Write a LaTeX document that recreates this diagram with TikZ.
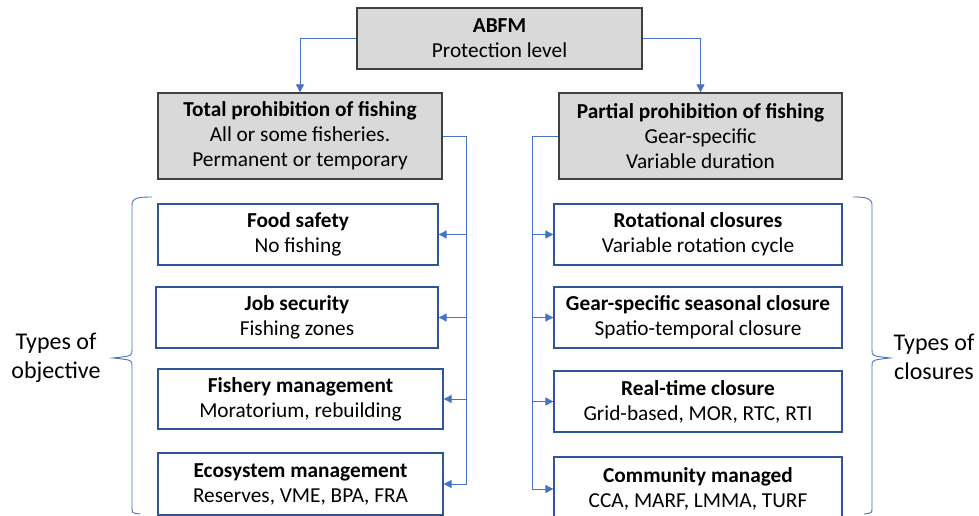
\documentclass[tikz,border=0pt]{standalone}
\usepackage{fontspec}
\setmainfont{Carlito}
\usetikzlibrary{arrows.meta}
\definecolor{conn}{HTML}{4472C4}
\definecolor{childb}{HTML}{2F5597}
\definecolor{grayf}{HTML}{D9D9D9}
\definecolor{grayb}{HTML}{404040}
\begin{document}
\begin{tikzpicture}[x=1pt,y=-1pt,
  boxtext/.style={font=\fontsize{21.3}{25}\selectfont, align=center, inner sep=0pt},
  graybox/.style={boxtext, draw=grayb, fill=grayf, line width=1.3pt},
  childbox/.style={boxtext, draw=childb, fill=white, line width=1.3pt},
  conline/.style={draw=conn, line width=0.9pt},
  arr/.style={conline, -{Triangle[width=8pt,length=8pt]}},
  bracestyle/.style={draw=conn, line width=0.9pt},
  sidetext/.style={font=\fontsize{24}{29}\selectfont, align=center, inner sep=0pt}]
\useasboundingbox (0,0) rectangle (979,516);
\clip (0,0) rectangle (979,516);
% top
\node[graybox, minimum width=285pt, minimum height=61pt] (top) at (499.5,38.5) {\textbf{ABFM}\\Protection level};
\node[graybox, minimum width=284pt, minimum height=86pt] (lg) at (300,136) {\textbf{Total prohibition of fishing}\\All or some fisheries.\\Permanent or temporary};
\node[graybox, minimum width=283pt, minimum height=86pt] (rg) at (700.5,136) {\textbf{Partial prohibition of fishing}\\Gear-specific\\Variable duration};
% left children
\node[childbox, minimum width=280pt, minimum height=61pt] (food) at (298,234.5) {\textbf{Food safety}\\No fishing};
\node[childbox, minimum width=282pt, minimum height=61pt] (job) at (297,317.5) {\textbf{Job security}\\Fishing zones};
\node[childbox, minimum width=285pt, minimum height=60pt] (fish) at (300.5,399) {\textbf{Fishery management}\\Moratorium, rebuilding};
\node[childbox, minimum width=285pt, minimum height=62pt] (eco) at (300.5,484) {\textbf{Ecosystem management}\\Reserves, VME, BPA, FRA};
% right children
\node[childbox, minimum width=288pt, minimum height=61pt] (rot) at (698,234.5) {\textbf{Rotational closures}\\Variable rotation cycle};
\node[childbox, minimum width=288pt, minimum height=61pt] (gear) at (698,317.5) {\textbf{Gear-specific seasonal closure}\\Spatio-temporal closure};
\node[childbox, minimum width=288pt, minimum height=61pt] (real) at (698,401.5) {\textbf{Real-time closure}\\Grid-based, MOR, RTC, RTI};
\node[childbox, minimum width=288pt, minimum height=64pt] (comm) at (698,489) {\textbf{Community managed}\\CCA, MARF, LMMA, TURF};
% top connectors
\draw[arr] (top.west) -| (lg.north);
\draw[arr] (top.east) -| (rg.north);
% left bus
\coordinate (lbus) at (466,136);
\draw[arr] (lg.east) -- (lbus) |- (food.east);
\draw[arr] (lg.east) -- (lbus) |- (job.east);
\draw[arr] (lg.east) -- (lbus) |- (fish.east);
\draw[arr] (lg.east) -- (lbus) |- (eco.east);
% right bus
\coordinate (rbus) at (532,136);
\draw[arr] (rg.west) -- (rbus) |- (rot.west);
\draw[arr] (rg.west) -- (rbus) |- (gear.west);
\draw[arr] (rg.west) -- (rbus) |- (real.west);
\draw[arr] (rg.west) -- (rbus) |- (comm.west);
% braces
\draw[bracestyle] (152,197) .. controls (138,197) and (132,198) .. (132,205) -- (132,350) .. controls (132,356) .. (113,358) .. controls (132,360) .. (132,366) -- (132,508) .. controls (132,513) .. (140,514);
\draw[bracestyle] (853,197) .. controls (866,197) and (872,198) .. (872,205) -- (872,350) .. controls (872,356) .. (890,358) .. controls (872,360) .. (872,366) -- (872,508) .. controls (872,513) .. (864,514);
% side labels
\node[sidetext] (lobj) at (56,358) {Types of\\objective};
\node[sidetext] (rclo) at (934,357) {Types of\\closures};
\end{tikzpicture}
\end{document}
